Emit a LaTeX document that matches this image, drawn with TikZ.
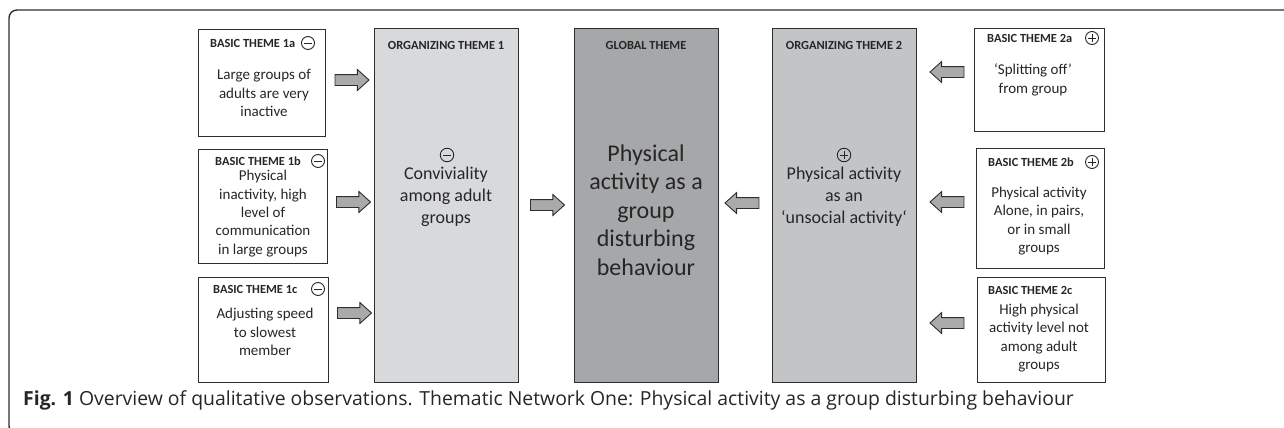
\documentclass[tikz,border=0pt]{standalone}
\usepackage{fontspec}
\setmainfont{Carlito}
\newfontfamily\capfont{Open Sans}
\usetikzlibrary{shapes.arrows}

\definecolor{orgone}{HTML}{D8D9DB}
\definecolor{globalfill}{HTML}{A6A7A9}
\definecolor{orgtwo}{HTML}{C3C4C6}
\definecolor{arrowfill}{HTML}{A9AAAC}
\definecolor{edge}{HTML}{2E2E2E}
\definecolor{ink}{HTML}{262626}

\tikzset{
  themebox/.style={draw=edge, line width=1.3pt, inner sep=0pt, anchor=north west},
  headtext/.style={font=\bfseries\fontsize{12.4}{14}\selectfont, text=ink, anchor=west, inner sep=0pt},
  orghead/.style={font=\bfseries\fontsize{12.4}{14}\selectfont, text=ink, inner sep=0pt},
  bodytext/.style={font=\fontsize{15}{18.3}\selectfont, text=ink, align=center, inner sep=0pt},
  orgtext/.style={font=\fontsize{18}{22}\selectfont, text=ink, align=center, inner sep=0pt},
  globtext/.style={font=\fontsize{24}{28.5}\selectfont, text=ink, align=center, inner sep=0pt},
  signbase/.style={circle, draw=ink, line width=0.9pt, minimum size=13pt, inner sep=0pt},
  minussign/.style={signbase, path picture={
      \draw[ink, line width=0.9pt] ([xshift=-3.8pt]path picture bounding box.center)
        -- ([xshift=3.8pt]path picture bounding box.center);}},
  plussign/.style={signbase, path picture={
      \draw[ink, line width=0.9pt] ([xshift=-3.8pt]path picture bounding box.center)
        -- ([xshift=3.8pt]path picture bounding box.center);
      \draw[ink, line width=0.9pt] ([yshift=-3.8pt]path picture bounding box.center)
        -- ([yshift=3.8pt]path picture bounding box.center);}},
  blockarrow/.style={single arrow, draw=edge, fill=arrowfill, line width=0.9pt,
      minimum height=34pt, inner xsep=0pt, inner ysep=5pt,
      single arrow head extend=5pt, single arrow tip angle=84},
  leftarrow/.style={blockarrow, shape border rotate=180},
}

\begin{document}
\begin{tikzpicture}[x=1pt, y=-1pt]
  \useasboundingbox (0,0) rectangle (1284,428);

  % outer frame, open at the right and bottom
  \draw[edge, line width=1.4pt, rounded corners=8pt] (1290,10) -- (9,10) -- (9,434) -- (20,434);

  % basic themes on the left
  \node[themebox, minimum width=127pt, minimum height=107pt] (b1a) at (198,29) {};
  \node[themebox, minimum width=129pt, minimum height=114pt] (b1b) at (198,149) {};
  \node[themebox, minimum width=130pt, minimum height=105pt] (b1c) at (198,277) {};

  % organizing and global themes
  \node[themebox, fill=orgone, minimum width=144pt, minimum height=354pt] (o1) at (374,28) {};
  \node[themebox, fill=globalfill, minimum width=144pt, minimum height=354pt] (gl) at (574,28) {};
  \node[themebox, fill=orgtwo, minimum width=144pt, minimum height=354pt] (o2) at (772,28) {};

  % basic themes on the right
  \node[themebox, minimum width=130pt, minimum height=103pt] (b2a) at (974,28) {};
  \node[themebox, minimum width=128pt, minimum height=120pt] (b2b) at (976,148) {};
  \node[themebox, minimum width=128pt, minimum height=105pt] (b2c) at (977,277) {};

  % headings and signs of the basic themes
  \node[headtext] (h1a) at (210,43) {BASIC THEME 1a};
  \node[minussign] (s1a) at (308,43) {};
  \node[headtext] (h1b) at (215,161) {BASIC THEME 1b};
  \node[minussign] (s1b) at (318,161) {};
  \node[headtext] (h1c) at (213,289) {BASIC THEME 1c};
  \node[minussign] (s1c) at (318,289) {};
  \node[headtext] (h2a) at (987,38) {BASIC THEME 2a};
  \node[plussign] (s2a) at (1092,38) {};
  \node[headtext] (h2b) at (988,162) {BASIC THEME 2b};
  \node[plussign] (s2b) at (1092,162) {};
  \node[headtext] (h2c) at (988,290) {BASIC THEME 2c};

  % texts of the basic themes
  \node[bodytext] (t1a) at (264,93) {Large groups of\\adults are very\\inactive};
  \node[bodytext] (t1b) at (263,213.5) {Physical\\inactivity, high\\level of\\communication\\in large groups};
  \node[bodytext] (t1c) at (265,332) {Adjusting speed\\to slowest\\member};
  \node[bodytext] (t2a) at (1033,80) {‘Splitting off’\\from group};
  \node[bodytext] (t2b) at (1039,221) {Physical activity\\Alone, in pairs,\\or in small\\groups};
  \node[bodytext] (t2c) at (1039,338) {High physical\\activity level not\\among adult\\groups};

  % organizing and global theme texts
  \node[orghead] (ho1) at (446,45) {ORGANIZING THEME 1};
  \node[minussign, minimum size=13.5pt] (so1) at (447,155) {};
  \node[orgtext] (to1) at (446,197) {Conviviality\\among adult\\groups};

  \node[orghead] (hgl) at (646,45) {GLOBAL THEME};
  \node[globtext] (tgl) at (646,210) {Physical\\activity as a\\group\\disturbing\\behaviour};

  \node[orghead] (ho2) at (844,45) {ORGANIZING THEME 2};
  \node[plussign, minimum size=13.5pt] (so2) at (844,155) {};
  \node[orgtext] (to2) at (844,197) {Physical activity\\as an\\‘unsocial activity‘};

  % block arrows linking the themes
  \node[blockarrow] (a1a) at (349,80) {};
  \node[blockarrow] (a1b) at (350.5,202) {};
  \node[blockarrow] (a1c) at (351.5,313) {};
  \node[blockarrow] (ag1) at (544.5,205) {};
  \node[leftarrow] (ag2) at (745,203) {};
  \node[leftarrow] (a2a) at (950,72) {};
  \node[leftarrow] (a2b) at (950,202) {};
  \node[leftarrow] (a2c) at (950,323) {};

  % caption
  \node[anchor=base west, inner sep=0pt, text=ink, font=\capfont\fontsize{19.4}{22}\selectfont] (cap) at (23,405)
    {{\bfseries Fig. 1} Overview of qualitative observations. Thematic Network One: Physical activity as a group disturbing behaviour};
\end{tikzpicture}
\end{document}
